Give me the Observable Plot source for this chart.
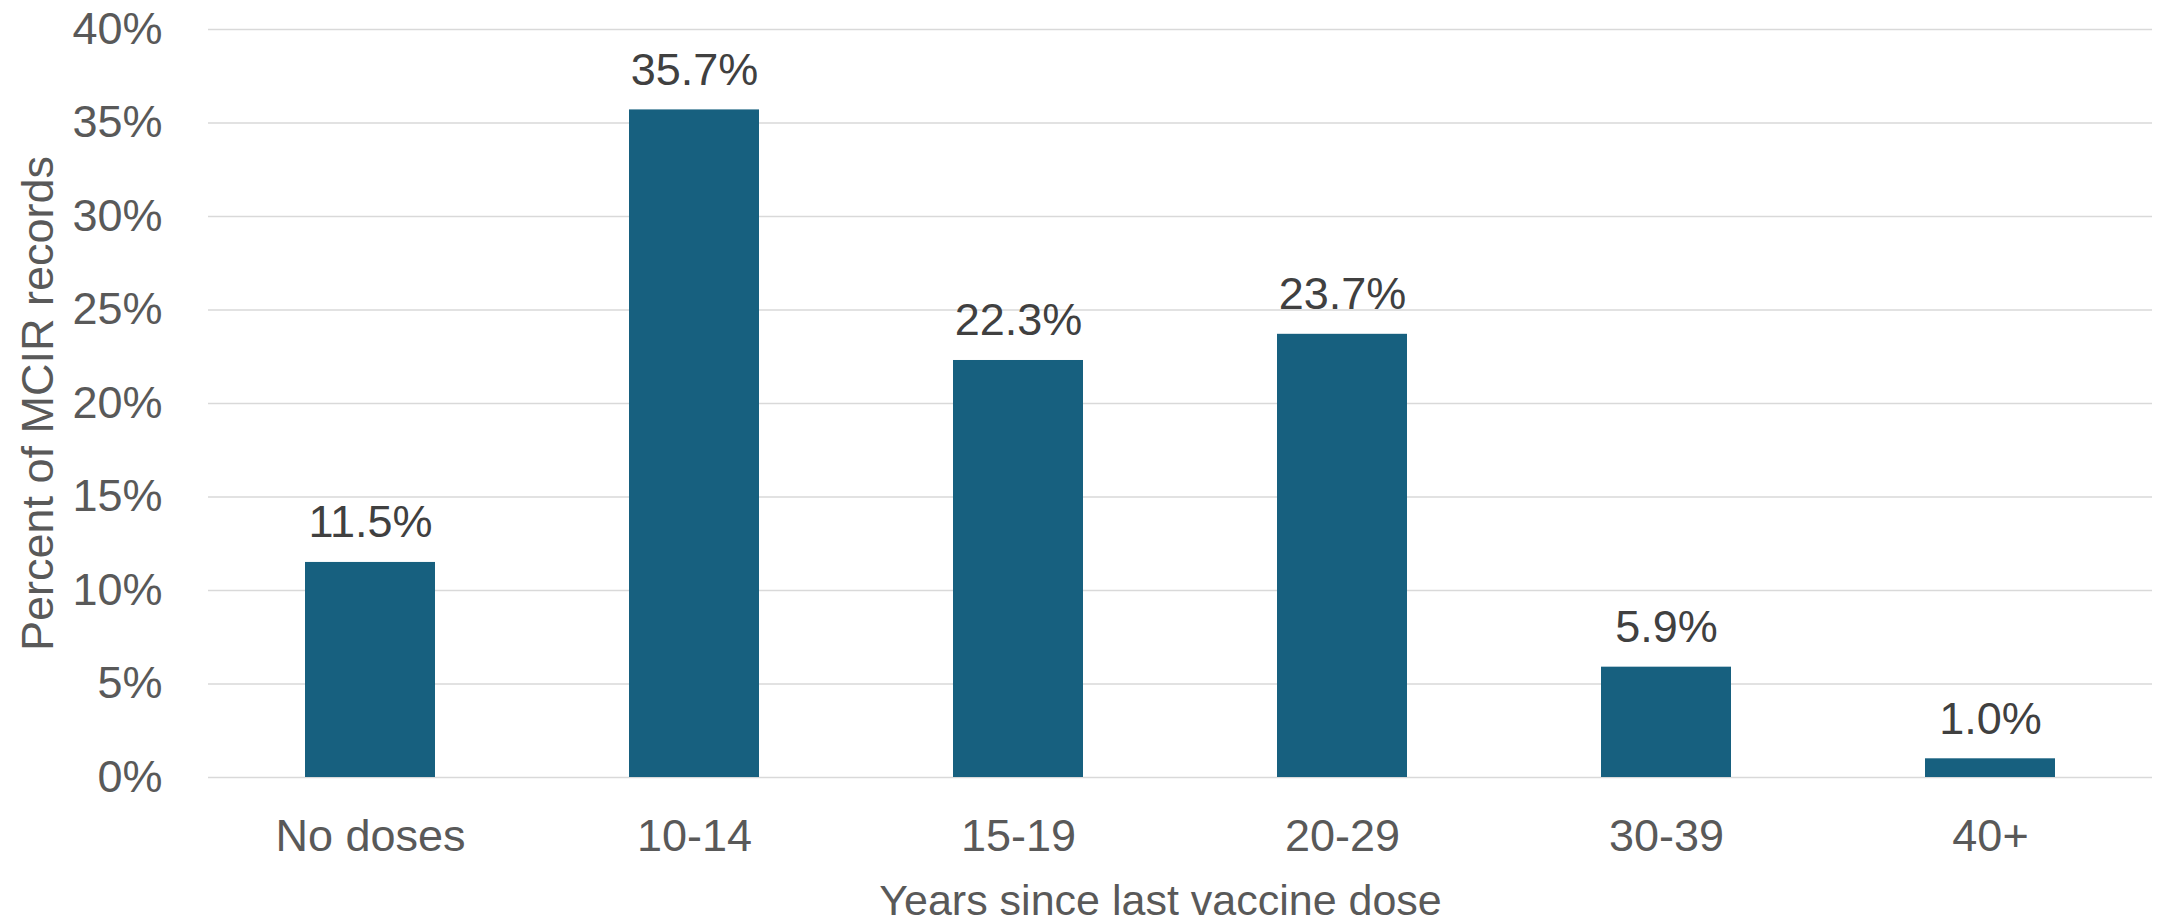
<!DOCTYPE html>
<html>
<head>
<meta charset="utf-8">
<script src="https://cdn.jsdelivr.net/npm/d3@7"></script>
<script src="https://cdn.jsdelivr.net/npm/@observablehq/plot@0.6"></script>
<style>
  html, body { margin: 0; padding: 0; background: #fff; }
  #chart svg { display: block; }
</style>
</head>
<body>
<div id="chart"></div>
<script>
const categories = ["No doses", "10-14", "15-19", "20-29", "30-39", "40+"];
const values = [11.5, 35.7, 22.3, 23.7, 5.9, 1.0];
const yTicks = [0, 5, 10, 15, 20, 25, 30, 35, 40];
const xTitle = "Years since last vaccine dose";
const yTitle = "Percent of MCIR records";

const data = categories.map((c, i) => ({category: c, value: values[i]}));

const FONT = "'Liberation Sans', Arial, sans-serif";
const W = 2158, H = 922;

const chart = Plot.plot({
  width: W,
  height: H,
  marginLeft: 208,
  marginRight: 6,
  marginTop: 29,
  marginBottom: 145,
  style: {fontFamily: FONT, fontSize: "45px", background: "#fff", color: "#595959"},
  x: {domain: categories, paddingInner: 0.6, paddingOuter: 0.3, label: null},
  y: {domain: [0, 40], label: null},
  marks: [
    Plot.gridY(yTicks, {stroke: "#d9d9d9", strokeOpacity: 1, strokeWidth: 1.5}),
    Plot.barY(data, {x: "category", y: "value", fill: "#17607f"}),
    Plot.text(data, {
      x: "category", y: "value",
      text: d => d.value.toFixed(1) + "%",
      lineAnchor: "bottom", dy: -25,
      fill: "#404040", fontSize: 45
    }),
    Plot.axisY({ticks: yTicks, tickFormat: d => d + "%", tickSize: 0, tickPadding: 46, fill: "#595959", fontSize: 45, label: null}),
    Plot.axisX({tickSize: 0, tickPadding: 42, fill: "#595959", fontSize: 45, label: null}),
    Plot.text([xTitle], {
      frameAnchor: "bottom", text: d => d, dx: -20, dy: 137,
      lineAnchor: "bottom", fill: "#595959", fontSize: 43
    }),
    Plot.text([yTitle], {
      frameAnchor: "left", text: d => d, dx: -156, rotate: -90,
      textAnchor: "middle", lineAnchor: "bottom", fill: "#595959", fontSize: 45
    })
  ]
});

document.getElementById("chart").appendChild(chart);
</script>
</body>
</html>
